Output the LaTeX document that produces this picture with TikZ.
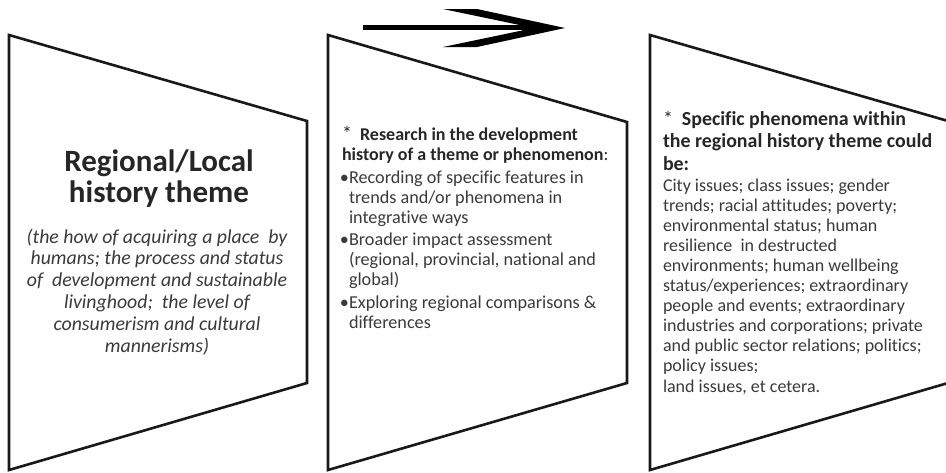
\documentclass[tikz,border=0pt]{standalone}
\usepackage{fontspec}
\setmainfont{Carlito}[Ligatures=NoCommon]
\definecolor{txt}{HTML}{3A3A3A}
\definecolor{ttl}{HTML}{262626}
\begin{document}
\begin{tikzpicture}[x=1pt,y=-1pt,
  trap/.style={draw=black!90,line width=2.6pt,line join=miter},
  blk/.style={inner sep=0pt,outer sep=0pt,text=txt},
]
\useasboundingbox (0,0) rectangle (946,472);
\begin{scope}
\clip (0,0) rectangle (946,472);
% trapezoids
\coordinate (a1) at (9,35);   \coordinate (a2) at (307,121);
\coordinate (a3) at (307,383); \coordinate (a4) at (9,470);
\coordinate (b1) at (328,35);  \coordinate (b2) at (627,122);
\coordinate (b3) at (627,383); \coordinate (b4) at (328,470);
\coordinate (c1) at (650,35);  \coordinate (c2) at (948,121);
\coordinate (c3) at (948,383); \coordinate (c4) at (650,470);
\draw[trap] (a1) -- (a2) -- (a3) -- (a4) -- cycle;
\draw[trap] (b1) -- (b2) -- (b3) -- (b4) -- cycle;
\draw[trap] (c1) -- (c2) -- (c3) -- (c4) -- cycle;
\end{scope}
% arrow
\coordinate (arrS) at (363,27.5);
\coordinate (arrE) at (522,27.5);
\coordinate (arrT) at (565,28);
\draw[line width=5pt] (arrS) -- (arrE);
\fill (arrT) -- (477,9) -- (443,9) -- (522,25.5) -- (522,30.5) -- (443,47) -- (477,47) -- cycle;
% box 1
\node[blk,text=ttl,font={\bfseries\fontsize{31}{31}\selectfont},align=center,anchor=base] (t1) at (159,202)
  {Regional/Local\\history theme};
\node[blk,font={\itshape\fontsize{19.8}{21.8}\selectfont},align=center,anchor=base] (d1) at (157,352)
  {(the how of acquiring a place\ \ by\\humans; the process and status\\of\ \ development and sustainable\\livinghood;\ \ the level of\\consumerism and cultural\\mannerisms)};
% box 2
\node[blk,text=ttl,font={\fontsize{18}{20}\selectfont},align=left,anchor=base west] (h2) at (342,160)
  {{\fontsize{20}{20}\selectfont *}\ \ \textbf{Research in the development}\\\textbf{history of a theme or phenomenon}:};
\node[blk,font={\fontsize{18.2}{20}\selectfont},align=left,anchor=base west] (l2) at (349,328)
  {\llap{•}Recording of specific features in\\trends and/or phenomena in\\integrative ways\\[2.5pt]
   \llap{•}Broader impact assessment\\(regional, provincial, national and\\global)\\[2.5pt]
   \llap{•}Exploring regional comparisons \&\\differences};
% box 3
\node[blk,text=ttl,font={\bfseries\fontsize{19.9}{22.5}\selectfont},align=left,anchor=base west] (h3) at (663,170)
  {{\mdseries *}\ \ Specific phenomena within\\the regional history theme could\\be:};
\node[blk,font={\fontsize{18}{20.1}\selectfont},align=left,anchor=base west] (l3) at (663,392)
  {City issues; class issues; gender\\trends; racial attitudes; poverty;\\environmental status; human\\resilience\ \ in destructed\\environments; human wellbeing\\status/experiences; extraordinary\\people and events; extraordinary\\industries and corporations; private\\and public sector relations; politics;\\policy issues;\\land issues, et cetera.};
\end{tikzpicture}
\end{document}
